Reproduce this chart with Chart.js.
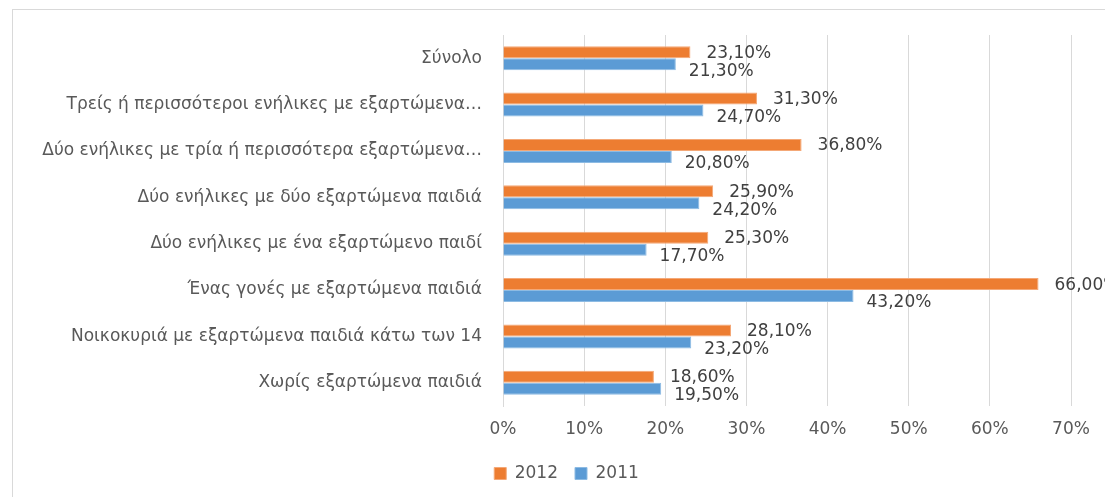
<!DOCTYPE html>
<html>
<head>
<meta charset="utf-8">
<script src="https://cdn.jsdelivr.net/npm/chart.js@4"></script>
<style>
  body { margin: 0; background: #fff; }
  #wrap { width: 1105px; height: 497px; position: relative; }
</style>
</head>
<body>
<div id="wrap"><canvas id="chart"></canvas></div>
<script>
// categories, top to bottom
const categories = [
  'Σύνολο',
  'Τρείς ή περισσότεροι ενήλικες με εξαρτώμενα…',
  'Δύο ενήλικες με τρία ή περισσότερα εξαρτώμενα…',
  'Δύο ενήλικες με δύο εξαρτώμενα παιδιά',
  'Δύο ενήλικες με ένα εξαρτώμενο παιδί',
  'Ένας γονές με εξαρτώμενα παιδιά',
  'Νοικοκυριά με εξαρτώμενα παιδιά κάτω των 14',
  'Χωρίς εξαρτώμενα παιδιά'
];
const values2012 = [23.1, 31.3, 36.8, 25.9, 25.3, 66.0, 28.1, 18.6];
const values2011 = [21.3, 24.7, 20.8, 24.2, 17.7, 43.2, 23.2, 19.5];
const xTicks = [0, 10, 20, 30, 40, 50, 60, 70];

const FONT = 'DejaVu Sans';

// outer frame like the excel chart area
const framePlugin = {
  id: 'frame',
  beforeDraw(chart) {
    const ctx = chart.ctx;
    ctx.save();
    ctx.strokeStyle = '#d9d9d9';
    ctx.lineWidth = 1;
    ctx.strokeRect(12.5, 9.5, 3000, 3000);
    ctx.restore();
  },
  // legend sits centred on the whole frame, not on the plot
  afterLayout(chart) {
    if (chart.legend) {
      chart.legend.left += 31;
      chart.legend.right += 31;
    }
  }
};

// value labels at the end of each bar
const barLabels = {
  id: 'barLabels',
  afterDatasetsDraw(chart) {
    const ctx = chart.ctx;
    ctx.save();
    ctx.font = '17px "' + FONT + '"';
    ctx.fillStyle = '#404040';
    ctx.textBaseline = 'middle';
    ctx.textAlign = 'left';
    chart.data.datasets.forEach((ds, i) => {
      chart.getDatasetMeta(i).data.forEach((bar, j) => {
        const txt = ds.data[j].toFixed(2).replace('.', ',') + '%';
        const dx = i === 0 ? 16 : 13;
        const dy = i === 0 ? 1 : 7;
        ctx.fillText(txt, bar.x + dx, bar.y + dy);
      });
    });
    ctx.restore();
  }
};

new Chart(document.getElementById('chart').getContext('2d'), {
  type: 'bar',
  data: {
    labels: categories,
    datasets: [
      { label: '2012', data: values2012, backgroundColor: '#ED7D31', borderColor: '#F4A877', borderWidth: 1 },
      { label: '2011', data: values2011, backgroundColor: '#5B9BD5', borderColor: '#8DBBE3', borderWidth: 1 }
    ]
  },
  options: {
    indexAxis: 'y',
    responsive: true,
    maintainAspectRatio: false,
    animation: false,
    layout: { padding: { left: 0, top: 35, right: 34, bottom: 5 } },
    datasets: { bar: { categoryPercentage: 0.515, barPercentage: 1 } },
    scales: {
      x: {
        min: 0, max: 70,
        afterBuildTicks(scale) { scale.ticks = xTicks.map(v => ({ value: v })); },
        afterFit(scale) { scale.height = 42; },
        grid: { color: '#d9d9d9', drawTicks: false },
        border: { display: false },
        ticks: {
          padding: 13,
          color: '#595959',
          font: { family: FONT, size: 17 },
          callback: v => v + '%'
        }
      },
      y: {
        afterFit(scale) { scale.width = 503; },
        grid: { display: false, drawTicks: false },
        border: { color: '#d9d9d9' },
        ticks: {
          padding: 21,
          color: '#595959',
          font: { family: FONT, size: 17 }
        }
      }
    },
    plugins: {
      legend: {
        position: 'bottom',
        labels: {
          boxWidth: 12,
          boxHeight: 12,
          padding: 17,
          color: '#595959',
          font: { family: FONT, size: 17 }
        }
      },
      tooltip: { enabled: false }
    }
  },
  plugins: [framePlugin, barLabels]
});
</script>
</body>
</html>
